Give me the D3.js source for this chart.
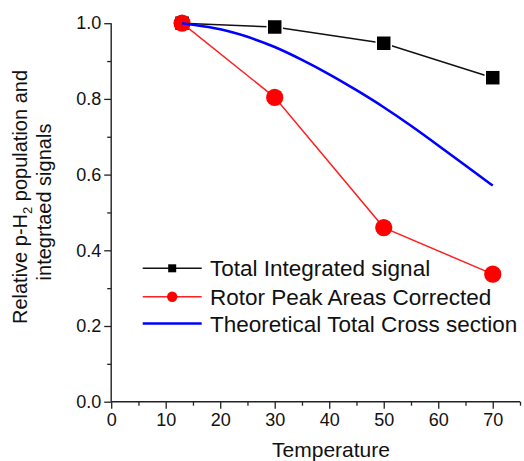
<!DOCTYPE html>
<html>
<head>
<meta charset="utf-8">
<script src="https://cdn.jsdelivr.net/npm/d3@7"></script>
<style>
  html, body { margin: 0; padding: 0; background: #fff; }
  svg { display: block; font-family: "Liberation Sans", Arial, sans-serif; }
</style>
</head>
<body>
<svg id="chart" width="524" height="461"></svg>
<script>
// Temperatures (x) and relative values for each series
const measuredTemps = [13, 30, 50, 70];
const totalIntegrated = [1.0, 0.99, 0.947, 0.856];
const rotorPeakCorrected = [1.0, 0.804, 0.46, 0.337];

const theoryTemps = [13, 15, 20, 25, 30, 35, 40, 45, 50, 55, 60, 65, 70];
const theoryCrossSection = [1.0, 0.996, 0.984, 0.964, 0.937, 0.903, 0.865, 0.823, 0.778, 0.729, 0.677, 0.624, 0.571];

const xMajorTicks = [0, 10, 20, 30, 40, 50, 60, 70];
const xMinorTicks = [5, 15, 25, 35, 45, 55, 65, 75];
const yMajorTicks = [0.0, 0.2, 0.4, 0.6, 0.8, 1.0];
const yMinorTicks = [0.1, 0.3, 0.5, 0.7, 0.9];

const legendLabels = ["Total Integrated signal", "Rotor Peak Areas Corrected", "Theoretical Total Cross section"];

const svg = d3.select("#chart");

const x = d3.scaleLinear().domain([0, 75]).range([111.2, 520]);
const y = d3.scaleLinear().domain([0, 1.0]).range([401.7, 23.2]);

const axisColor = "#222";

// x axis: major ticks with labels, minor ticks without
const gx = svg.append("g").attr("transform", `translate(0,${y(0)})`);
gx.call(d3.axisBottom(x).tickValues(xMajorTicks).tickSize(7).tickPadding(5)
  .tickFormat(d3.format("d")));
gx.select(".domain").remove();
const gxm = svg.append("g").attr("transform", `translate(0,${y(0)})`);
gxm.call(d3.axisBottom(x).tickValues(xMinorTicks).tickSize(4).tickFormat(""));
gxm.select(".domain").remove();
svg.append("line")
  .attr("x1", x(0)).attr("x2", x(75))
  .attr("y1", y(0)).attr("y2", y(0))
  .attr("stroke", axisColor).attr("stroke-width", 1.4);

// y axis
const gy = svg.append("g").attr("transform", `translate(${x(0)},0)`);
gy.call(d3.axisLeft(y).tickValues(yMajorTicks).tickSize(7).tickPadding(3)
  .tickFormat(d3.format(".1f")));
gy.select(".domain").remove();
const gym = svg.append("g").attr("transform", `translate(${x(0)},0)`);
gym.call(d3.axisLeft(y).tickValues(yMinorTicks).tickSize(4).tickFormat(""));
gym.select(".domain").remove();
svg.append("line")
  .attr("x1", x(0)).attr("x2", x(0))
  .attr("y1", y(0)).attr("y2", y(1.0))
  .attr("stroke", axisColor).attr("stroke-width", 1.4);

svg.selectAll(".tick line").attr("stroke", axisColor).attr("stroke-width", 1.3);
svg.selectAll(".tick text")
  .attr("font-family", "Liberation Sans, Arial, sans-serif")
  .attr("font-size", 18).attr("fill", "#111");

// axis titles
svg.append("text")
  .attr("x", 331).attr("y", 456.5)
  .attr("text-anchor", "middle")
  .attr("font-size", 21).attr("fill", "#111")
  .text("Temperature");

const yTitle1 = svg.append("text")
  .attr("transform", "translate(27,197) rotate(-90)")
  .attr("text-anchor", "middle")
  .attr("font-size", 20).attr("fill", "#111");
yTitle1.append("tspan").text("Relative p-H");
yTitle1.append("tspan").attr("font-size", 13).attr("dy", 5).text("2");
yTitle1.append("tspan").attr("dy", -5).text(" population and");

svg.append("text")
  .attr("transform", "translate(51,202) rotate(-90)")
  .attr("text-anchor", "middle")
  .attr("font-size", 20).attr("fill", "#111")
  .text("integrtaed signals");

// series data
const blackData = measuredTemps.map((t, i) => [t, totalIntegrated[i]]);
const redData = measuredTemps.map((t, i) => [t, rotorPeakCorrected[i]]);
const blueData = theoryTemps.map((t, i) => [t, theoryCrossSection[i]]);

const line = d3.line().x(d => x(d[0])).y(d => y(d[1]));
const smooth = d3.line().x(d => x(d[0])).y(d => y(d[1])).curve(d3.curveNatural);

// Total integrated signal: black line with squares
svg.append("path").datum(blackData)
  .attr("d", line).attr("fill", "none")
  .attr("stroke", "#111").attr("stroke-width", 1.5);
const sq = 15;
svg.selectAll(".sq").data(blackData).enter().append("rect")
  .attr("x", d => x(d[0]) - sq / 2).attr("y", d => y(d[1]) - sq / 2)
  .attr("width", sq).attr("height", sq)
  .attr("fill", "#000").attr("stroke", "#fff").attr("stroke-width", 1.5);

// Rotor peak areas: red line with circles
svg.append("path").datum(redData)
  .attr("d", line).attr("fill", "none")
  .attr("stroke", "#ff2020").attr("stroke-width", 1.5);
svg.selectAll(".dot").data(redData).enter().append("circle")
  .attr("cx", d => x(d[0])).attr("cy", d => y(d[1]))
  .attr("r", 8.6).attr("fill", "#ff0000");

// Theoretical cross section: smooth blue curve
svg.append("path").datum(blueData)
  .attr("d", smooth).attr("fill", "none")
  .attr("stroke", "#0000ff").attr("stroke-width", 2.6);

// legend
const legend = svg.append("g");
const rowY = [268.3, 296.7, 323.5];
const lx1 = 142.7, lx2 = 201.7, lxm = (lx1 + lx2) / 2;
const legendColors = ["#111", "#ff2020", "#0000ff"];
const legendWidths = [1.5, 1.5, 2.6];
legendLabels.forEach((label, i) => {
  legend.append("line")
    .attr("x1", lx1).attr("x2", lx2).attr("y1", rowY[i]).attr("y2", rowY[i])
    .attr("stroke", legendColors[i]).attr("stroke-width", legendWidths[i]);
  legend.append("text")
    .attr("x", 210).attr("y", rowY[i])
    .attr("dy", "0.36em")
    .attr("font-size", 22.5).attr("fill", "#111")
    .text(label);
});
legend.append("rect")
  .attr("x", lxm - 4).attr("y", rowY[0] - 4).attr("width", 8).attr("height", 8)
  .attr("fill", "#000");
legend.append("circle")
  .attr("cx", lxm).attr("cy", rowY[1]).attr("r", 5.2).attr("fill", "#ff0000");
</script>
</body>
</html>
